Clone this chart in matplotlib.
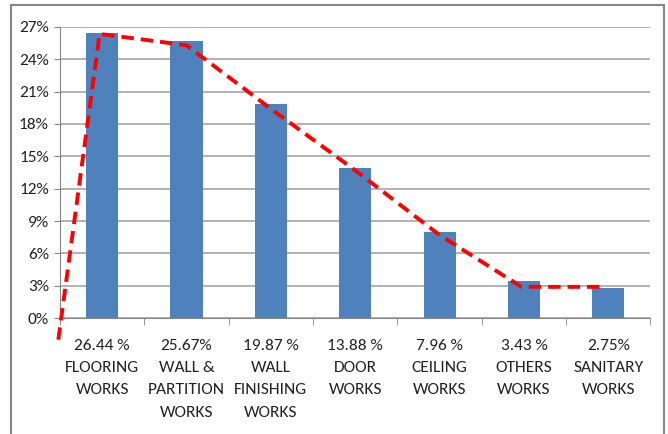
import numpy as np
import matplotlib.pyplot as plt
from matplotlib.patches import Rectangle

# share of defects by work type (%)
categories = ["FLOORING\nWORKS", "WALL &\nPARTITION\nWORKS", "WALL\nFINISHING\nWORKS",
              "DOOR\nWORKS", "CEILING\nWORKS", "OTHERS\nWORKS", "SANITARY\nWORKS"]
value_labels = ["26.44 %", "25.67%", "19.87 %", "13.88 %", "7.96 %", "3.43 %", "2.75%"]
values = [26.44, 25.67, 19.87, 13.88, 7.96, 3.43, 2.75]

# dashed trend line (category position, %)
trend_x = [-0.52, -0.03, 1.0, 2.0, 3.0, 4.0, 4.97, 5.97]
trend_y = [-2.0, 26.35, 25.3, 19.4, 13.7, 7.7, 2.9, 2.9]

plt.rcParams['font.family'] = ['Carlito', 'DejaVu Sans']

fig = plt.figure(figsize=(6.68, 4.34), dpi=100)
ax = fig.add_axes([0.0898, 0.267, 0.884, 0.671])

x = np.arange(len(values))
ax.bar(x, values, width=0.38, color='#4f81bd', zorder=2)
ax.plot(trend_x, trend_y, color='#ff0000', lw=2.8, dashes=(3.2, 1.8), zorder=3,
        clip_on=False)

ax.set_xlim(-0.5, len(values) - 0.5)
ax.set_ylim(0, 27)
ax.set_yticks(np.arange(0, 28, 3))
ax.set_yticklabels([f"{v}%" for v in range(0, 28, 3)], fontsize=12.5, color='#222222')
ax.yaxis.grid(True, color='#a6a6a6', lw=1.2, zorder=0)
ax.set_axisbelow(True)

labels = [f"{v}\n{c}" for v, c in zip(value_labels, categories)]
ax.set_xticks(x)
ax.set_xticklabels(labels, fontsize=12.5, linespacing=1.75, va='top', color='#222222')
ax.tick_params(axis='x', length=0, pad=15)
ax.set_xticks(np.arange(-0.5, len(values)), minor=True)
ax.tick_params(axis='x', which='minor', length=5, color='#868686')
ax.tick_params(axis='y', length=4, color='#868686', pad=4)

for s in ['top', 'right']:
    ax.spines[s].set_visible(False)
for s in ['left', 'bottom']:
    ax.spines[s].set_color('#868686')

# outer chart frame
fig.patches.append(Rectangle((11 / 668, -0.05), (664 - 11) / 668, 1 - 5 / 434 + 0.05,
                             transform=fig.transFigure, fill=False,
                             edgecolor='#868686', lw=1.5))

fig.savefig("out.png", dpi=100)
